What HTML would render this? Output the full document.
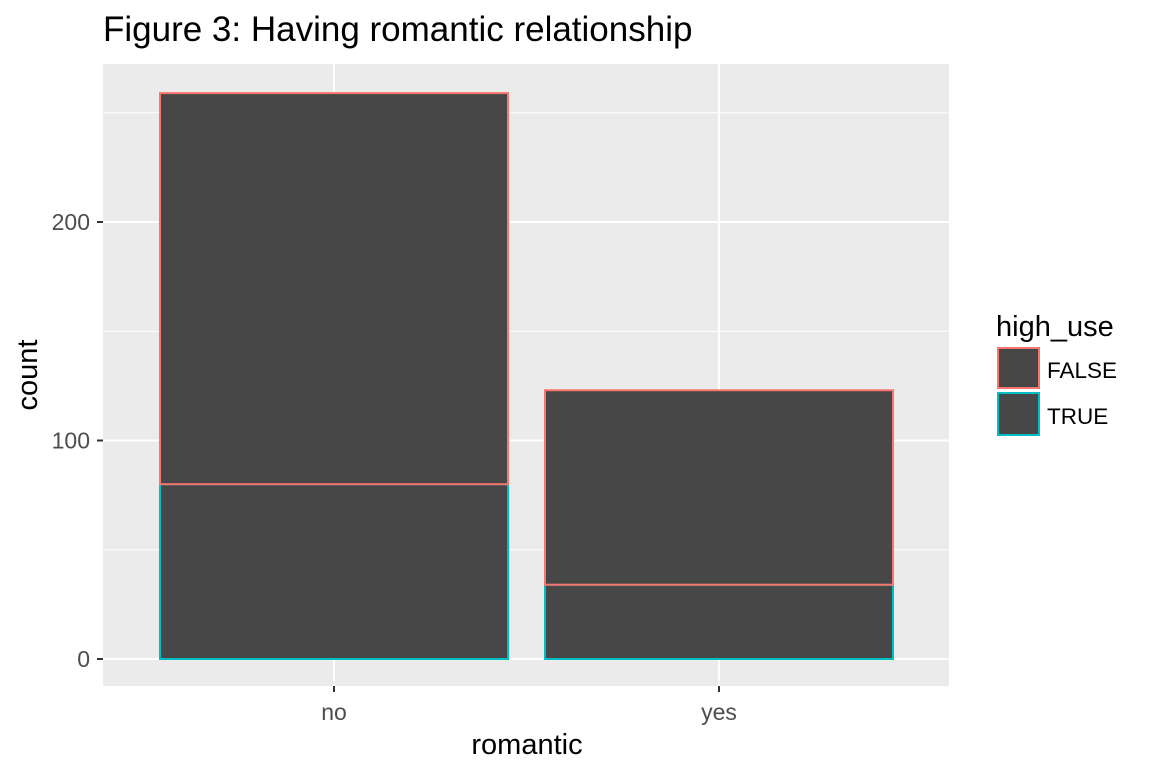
<!DOCTYPE html>
<html><head><meta charset="utf-8"><style>
body{margin:0;background:#fff;}
svg{display:block;font-family:"Liberation Sans",Arial,sans-serif;}
</style></head><body>
<svg id="chart" width="1152" height="768">
<text x="103" y="41" font-size="35" fill="#000">Figure 3: Having romantic relationship</text>
<rect x="103" y="64" width="846" height="622" fill="#EBEBEB"/>
<g id="grid"></g>
<g id="bars"></g>
<g id="axes"></g>
<text x="527" y="754" font-size="29" text-anchor="middle">romantic</text>
<text transform="translate(37,375) rotate(-90)" font-size="29" text-anchor="middle">count</text>
<g>
<text x="996" y="336" font-size="29">high_use</text>
<rect x="998" y="348" width="41" height="40" fill="#474747" stroke="#F8766D" stroke-width="2"/>
<text x="1047" y="378" font-size="22.5">FALSE</text>
<rect x="998" y="393" width="41" height="42" fill="#474747" stroke="#00BFC4" stroke-width="2"/>
<text x="1047" y="424" font-size="22.5">TRUE</text>
</g>
</svg>
<script>
const categories = ["no","yes"];
const trueCounts = [80, 34];
const falseCounts = [179, 89];
const yTicks = [0,100,200];
const yMinor = [50,150,250];
const NS="http://www.w3.org/2000/svg";
const y0=659, pxPer=2.185;
const y=v=>y0-v*pxPer;
const xc=i=>334+i*385;
const bw=348;
function mk(tag,attrs,parent){const e=document.createElementNS(NS,tag);for(const k in attrs)e.setAttribute(k,attrs[k]);parent.appendChild(e);return e;}
const grid=document.getElementById('grid'),bars=document.getElementById('bars'),axes=document.getElementById('axes');
yMinor.forEach(v=>{const l=mk('line',{x1:103,x2:949,y1:y(v),y2:y(v),stroke:'#fff','stroke-width':1},grid);

});
yTicks.forEach(v=>{const l=mk('line',{x1:103,x2:949,y1:y(v),y2:y(v),stroke:'#fff','stroke-width':2},grid);


const t=mk('line',{x1:97,x2:103,y1:y(v),y2:y(v),stroke:'#333','stroke-width':2},axes);


const tx=mk('text',{x:90,y:y(v)+8,'font-size':23,'text-anchor':'end',fill:'#4D4D4D'},axes);tx.textContent=v;

});
categories.forEach((c,i)=>{const l=mk('line',{x1:xc(i),x2:xc(i),y1:64,y2:686,stroke:'#fff','stroke-width':2},grid);


const t=mk('line',{x1:xc(i),x2:xc(i),y1:686,y2:692,stroke:'#333','stroke-width':2},axes);


const tx=mk('text',{x:xc(i),y:720,'font-size':23,'text-anchor':'middle',fill:'#4D4D4D'},axes);tx.textContent=c;


const x=xc(i)-bw/2;
const bt=mk('rect',{x:x,y:y(trueCounts[i]),width:bw,height:trueCounts[i]*pxPer,fill:'#474747',stroke:'#00BFC4','stroke-width':2},bars);


const top=trueCounts[i]+falseCounts[i];
const bf=mk('rect',{x:x,y:y(top),width:bw,height:falseCounts[i]*pxPer,fill:'#474747',stroke:'#F8766D','stroke-width':2},bars);

});
</script>
</body></html>
